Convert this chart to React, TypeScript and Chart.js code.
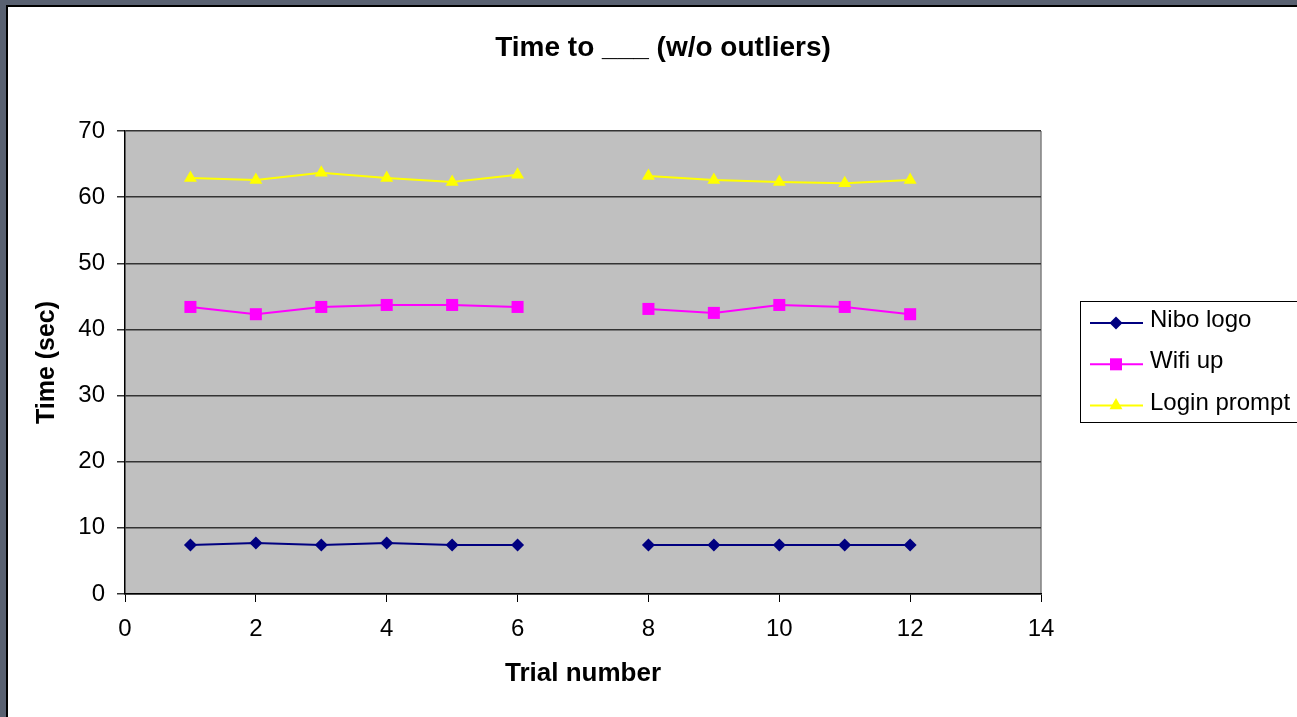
import React, { useEffect, useRef } from "react";
import { Chart, registerables } from "chart.js";
import { drawPoint } from "chart.js/helpers";

Chart.register(...registerables);

const chartTitle = "Time to ___ (w/o outliers)";
const xAxisTitle = "Trial number";
const yAxisTitle = "Time (sec)";

const trials = [1, 2, 3, 4, 5, 6, 7, 8, 9, 10, 11, 12];
const niboLogo = [7.4, 7.7, 7.4, 7.7, 7.4, 7.4, null, 7.4, 7.4, 7.4, 7.4, 7.4];
const wifiUp = [43.4, 42.3, 43.4, 43.7, 43.7, 43.4, null, 43.1, 42.5, 43.7, 43.4, 42.3];
const loginPrompt = [62.9, 62.6, 63.7, 62.9, 62.3, 63.4, null, 63.2, 62.6, 62.3, 62.1, 62.6];

const seriesNames = ["Nibo logo", "Wifi up", "Login prompt"];
const seriesColors = ["#000080", "#FF00FF", "#FFFF00"];
const seriesMarkers = ["rectRot", "rect", "triangle"];
const seriesMarkerRadius = [6.5, 8.5, 7.5];

const xMin = 0;
const xMax = 14;
const xStep = 2;
const yMin = 0;
const yMax = 70;
const yStep = 10;

const FONT = '"Liberation Sans", Arial, Helvetica, sans-serif';

const W = 1297;
const H = 717;

export default function App() {
  const canvasRef = useRef<HTMLCanvasElement | null>(null);

  useEffect(() => {
    const canvas = canvasRef.current;
    if (!canvas) return;
    Chart.defaults.font.family = FONT;
    Chart.defaults.color = "#000";

    const values = [niboLogo, wifiUp, loginPrompt];
    const datasets = values.map((vals, i) => ({
      label: seriesNames[i],
      data: trials.map((t, j) => ({ x: t, y: vals[j] })),
      borderColor: seriesColors[i],
      backgroundColor: seriesColors[i],
      pointBackgroundColor: seriesColors[i],
      pointBorderColor: seriesColors[i],
      pointStyle: seriesMarkers[i],
      pointRadius: seriesMarkerRadius[i],
      pointBorderWidth: 0,
      borderWidth: 2,
      spanGaps: false,
      tension: 0,
    }));

    const decorPlugin = {
      id: "decor",
      beforeDraw(chart: any) {
        const { ctx, chartArea } = chart;
        ctx.save();
        ctx.fillStyle = "#C0C0C0";
        ctx.fillRect(chartArea.left, chartArea.top, chartArea.right - chartArea.left, chartArea.bottom - chartArea.top);
        ctx.strokeStyle = "#808080";
        ctx.lineWidth = 1.5;
        ctx.beginPath();
        ctx.moveTo(chartArea.right, chartArea.top);
        ctx.lineTo(chartArea.right, chartArea.bottom);
        ctx.stroke();
        ctx.restore();
      },
      afterDraw(chart: any) {
        const { ctx } = chart;
        ctx.save();
        // title
        ctx.fillStyle = "#000";
        ctx.font = `bold 28px ${FONT}`;
        ctx.textAlign = "center";
        ctx.textBaseline = "middle";
        ctx.fillText(chartTitle, 663, 48.6);

        // legend box
        ctx.fillStyle = "#FFFFFF";
        ctx.fillRect(1080.5, 301.5, 240, 121);
        ctx.strokeStyle = "#000";
        ctx.lineWidth = 1;
        ctx.strokeRect(1080.5, 301.5, 240, 121);

        chart.data.datasets.forEach((ds: any, i: number) => {
          const y = 323 + i * 41.3;
          ctx.strokeStyle = ds.borderColor;
          ctx.lineWidth = 2;
          ctx.beginPath();
          ctx.moveTo(1090, y);
          ctx.lineTo(1143, y);
          ctx.stroke();
          ctx.fillStyle = ds.pointBackgroundColor;
          ctx.strokeStyle = ds.pointBorderColor;
          drawPoint(ctx, { pointStyle: ds.pointStyle, radius: ds.pointRadius, rotation: 0, borderWidth: 0 } as any, 1116, y);
          ctx.fillStyle = "#000";
          ctx.font = `24px ${FONT}`;
          ctx.textAlign = "left";
          ctx.textBaseline = "middle";
          ctx.fillText(ds.label, 1150, y - 2.5);
        });
        ctx.restore();
      },
    };

    const chart = new Chart(canvas, {
      type: "line",
      data: { datasets: datasets as any },
      options: {
        animation: false,
        responsive: false,
        maintainAspectRatio: false,
        layout: { padding: { left: 0, top: 131, right: 256, bottom: 0 } },
        plugins: {
          legend: { display: false },
          title: { display: false },
          tooltip: { enabled: false },
        },
        scales: {
          x: {
            type: "linear",
            min: xMin,
            max: xMax,
            afterFit: (scale: any) => {
              scale.height = 123;
            },
            ticks: {
              stepSize: xStep,
              padding: 13.3,
              color: "#000",
              font: { size: 24, family: FONT },
              maxRotation: 0,
            },
            grid: {
              drawOnChartArea: false,
              drawTicks: true,
              tickLength: 8,
              color: "#000",
              lineWidth: 1,
            },
            border: { display: true, color: "#000", width: 1.5 },
            title: {
              display: true,
              text: xAxisTitle,
              color: "#000",
              font: { size: 26, weight: "bold", family: FONT },
              padding: { top: 0, bottom: 27.1 },
            },
          },
          y: {
            type: "linear",
            min: yMin,
            max: yMax,
            afterFit: (scale: any) => {
              scale.width = 125;
            },
            ticks: {
              stepSize: yStep,
              padding: 12,
              color: "#000",
              font: { size: 24, family: FONT },
            },
            grid: {
              drawOnChartArea: true,
              drawTicks: true,
              tickLength: 8,
              color: "#333333",
              lineWidth: 1.5,
            },
            border: { display: true, color: "#000", width: 1.5 },
            title: {
              display: true,
              text: yAxisTitle,
              color: "#000",
              font: { size: 25, weight: "bold", family: FONT },
              padding: { top: 32.3, bottom: 0 },
            },
          },
        },
      },
      plugins: [decorPlugin],
    });

    return () => {
      chart.destroy();
    };
  }, []);

  return (
    <div style={{ position: "fixed", left: 0, top: 0, width: W, height: H, background: "#596171", overflow: "hidden" }}>
      <div
        style={{
          position: "absolute",
          left: 6,
          top: 5,
          right: 0,
          bottom: 0,
          background: "#FFFFFF",
          borderLeft: "2px solid #000",
          borderTop: "2px solid #000",
        }}
      />
      <canvas
        ref={canvasRef}
        width={W}
        height={H}
        style={{ position: "absolute", left: 0, top: 0, width: W, height: H }}
      />
    </div>
  );
}
